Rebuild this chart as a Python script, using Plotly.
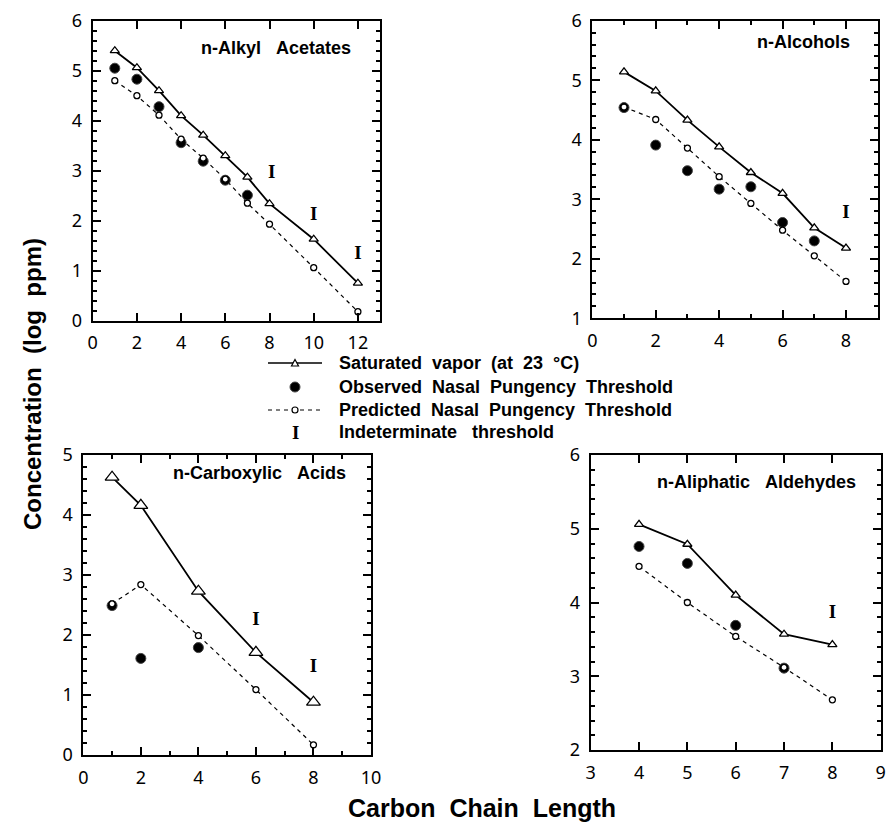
import plotly.graph_objects as go

# ---------------- data ----------------
acet_x = [1, 2, 3, 4, 5, 6, 7, 8, 10, 12]
acet_sat = [5.40, 5.06, 4.60, 4.10, 3.71, 3.30, 2.87, 2.34, 1.63, 0.75]
acet_obs_x = [1, 2, 3, 4, 5, 6, 7]
acet_obs = [5.05, 4.83, 4.28, 3.56, 3.19, 2.81, 2.51]
acet_pred = [4.80, 4.50, 4.11, 3.63, 3.25, 2.83, 2.35, 1.93, 1.06, 0.18]
acet_ind_x = [8.1, 10, 12]
acet_ind_y = [2.95, 2.10, 1.33]

alc_x = [1, 2, 3, 4, 5, 6, 7, 8]
alc_sat = [5.14, 4.82, 4.33, 3.88, 3.45, 3.10, 2.52, 2.18]
alc_obs_x = [1, 2, 3, 4, 5, 6, 7]
alc_obs = [4.54, 3.91, 3.48, 3.17, 3.21, 2.61, 2.30]
alc_pred = [4.55, 4.34, 3.86, 3.38, 2.93, 2.48, 2.05, 1.62]
alc_ind_x = [8]
alc_ind_y = [2.76]

acid_x = [1, 2, 4, 6, 8]
acid_sat = [4.63, 4.16, 2.73, 1.71, 0.88]
acid_obs_x = [1, 2, 4]
acid_obs = [2.49, 1.61, 1.79]
acid_pred = [2.52, 2.84, 1.99, 1.09, 0.17]
acid_ind_x = [6, 8]
acid_ind_y = [2.25, 1.46]

ald_x = [4, 5, 6, 7, 8]
ald_sat = [5.06, 4.79, 4.10, 3.57, 3.43]
ald_obs_x = [4, 5, 6, 7]
ald_obs = [4.76, 4.53, 3.69, 3.11]
ald_pred = [4.49, 4.00, 3.54, 3.12, 2.68]
ald_ind_x = [8]
ald_ind_y = [3.85]

panel_titles = ["n-Alkyl\u00a0\u00a0\u00a0Acetates", "n-Alcohols",
                "n-Carboxylic\u00a0\u00a0\u00a0Acids", "n-Aliphatic\u00a0\u00a0\u00a0Aldehydes"]
legend_labels = ["Saturated\u00a0\u00a0vapor\u00a0\u00a0(at\u00a0\u00a023\u00a0\u00a0\u00b0C)",
                 "Observed\u00a0\u00a0Nasal\u00a0\u00a0Pungency\u00a0\u00a0Threshold",
                 "Predicted\u00a0\u00a0Nasal\u00a0\u00a0Pungency\u00a0\u00a0Threshold",
                 "Indeterminate\u00a0\u00a0\u00a0threshold"]
x_title = "Carbon\u00a0\u00a0Chain\u00a0\u00a0Length"
y_title = "Concentration\u00a0\u00a0(log\u00a0\u00a0ppm)"

# ---------------- layout constants ----------------
W, H = 887, 829
TICK_FONT = dict(family="Noto Sans", size=18, color="black")
BOLD = "Liberation Sans"
SERIF = "Liberation Serif"

def fx(px):
    return px / W

def fy(py):
    return 1 - py / H

panels = [
    dict(data=(acet_x, acet_sat, acet_obs_x, acet_obs, acet_pred, acet_ind_x, acet_ind_y),
         xdom=[fx(92.7), fx(380.0)], ydom=[fy(320.7), fy(20.7)],
         xr=[0, 13], xd=2, xminor=None, yr=[0, 6], tri=8,
         title_pos=(8.3, 5.45)),
    dict(data=(alc_x, alc_sat, alc_obs_x, alc_obs, alc_pred, alc_ind_x, alc_ind_y),
         xdom=[fx(592.3), fx(877.7)], ydom=[fy(318.3), fy(20.7)],
         xr=[0, 9], xd=2, xminor=1, yr=[1, 6], tri=8,
         title_pos=(6.65, 5.65)),
    dict(data=(acid_x, acid_sat, acid_obs_x, acid_obs, acid_pred, acid_ind_x, acid_ind_y),
         xdom=[fx(83.3), fx(371.0)], ydom=[fy(755), fy(455)],
         xr=[0, 10], xd=2, xminor=1, yr=[0, 5], tri=12,
         title_pos=(6.14, 4.70)),
    dict(data=(ald_x, ald_sat, ald_obs_x, ald_obs, ald_pred, ald_ind_x, ald_ind_y),
         xdom=[fx(590.7), fx(880.7)], ydom=[fy(750), fy(455)],
         xr=[3, 9], xd=1, xminor=None, yr=[2, 6], tri=8,
         title_pos=(6.44, 5.64)),
]

fig = go.Figure()
annotations = []
shapes = []
layout = {}

for i, p in enumerate(panels, start=1):
    xs, sat, ox, obs, pred, ix, iy = p["data"]
    xa = "x" if i == 1 else f"x{i}"
    ya = "y" if i == 1 else f"y{i}"
    fig.add_trace(go.Scatter(x=xs, y=sat, xaxis=xa, yaxis=ya, mode="lines+markers",
                             line=dict(color="black", width=1.8),
                             marker=dict(symbol="triangle-up", size=p["tri"], color="white",
                                         line=dict(color="black", width=1.3)),
                             showlegend=False))
    fig.add_trace(go.Scatter(x=xs, y=pred, xaxis=xa, yaxis=ya, mode="lines",
                             line=dict(color="black", width=1.2, dash="4px,4px"),
                             showlegend=False))
    fig.add_trace(go.Scatter(x=ox, y=obs, xaxis=xa, yaxis=ya, mode="markers",
                             marker=dict(symbol="circle", size=10, color="black",
                                         line=dict(color="#444", width=1)),
                             showlegend=False))
    fig.add_trace(go.Scatter(x=xs, y=pred, xaxis=xa, yaxis=ya, mode="markers",
                             marker=dict(symbol="circle", size=6, color="white",
                                         line=dict(color="black", width=1.3)),
                             showlegend=False))
    fig.add_trace(go.Scatter(x=ix, y=iy, xaxis=xa, yaxis=ya, mode="text",
                             text=["I"] * len(ix),
                             textfont=dict(family=SERIF, size=19, color="black", weight="bold"),
                             showlegend=False))

    axis_common = dict(showline=True, linewidth=2, linecolor="black", mirror="ticks",
                       ticks="inside", ticklen=8, tickwidth=2, tickcolor="black",
                       showgrid=False, zeroline=False, tickfont=TICK_FONT,
                       automargin=False, ticklabelstandoff=5, autorange=True)
    xkw = dict(axis_common, domain=p["xdom"], dtick=p["xd"], tick0=0, anchor=ya,
               autorangeoptions=dict(minallowed=p["xr"][0], maxallowed=p["xr"][1]))
    if p["xminor"]:
        xkw["minor"] = dict(dtick=p["xminor"], ticks="inside", ticklen=4, tickwidth=1.5,
                            tickcolor="black", showgrid=False)
    ykw = dict(axis_common, domain=p["ydom"], dtick=1, tick0=0, anchor=xa,
               autorangeoptions=dict(minallowed=p["yr"][0], maxallowed=p["yr"][1]),
               minor=dict(dtick=0.2, ticks="inside", ticklen=4, tickwidth=1.5,
                          tickcolor="black", showgrid=False))
    layout["xaxis" if i == 1 else f"xaxis{i}"] = xkw
    layout["yaxis" if i == 1 else f"yaxis{i}"] = ykw

    tx, ty = p["title_pos"]
    annotations.append(dict(x=tx, y=ty, xref=xa, yref=ya, text=panel_titles[i - 1],
                            showarrow=False, xanchor="center", yanchor="middle",
                            font=dict(family=BOLD, size=18, color="black", weight="bold")))

# ---------------- legend (shapes + text, pixel layout) ----------------
LEG_X0, LEG_X1, LEG_XM, LEG_TX = 268, 322, 295, 337
LEG_Y = [363, 387, 410, 432]

shapes.append(dict(type="line", xref="paper", yref="paper", x0=fx(LEG_X0), x1=fx(LEG_X1),
                   y0=fy(LEG_Y[0]), y1=fy(LEG_Y[0]), line=dict(color="black", width=1.5)))
tri_path = "M {:.5f},{:.5f} L {:.5f},{:.5f} L {:.5f},{:.5f} Z".format(
    fx(LEG_XM - 3.5), fy(LEG_Y[0] + 3), fx(LEG_XM + 3.5), fy(LEG_Y[0] + 3),
    fx(LEG_XM), fy(LEG_Y[0] - 3.5))
shapes.append(dict(type="path", xref="paper", yref="paper", path=tri_path,
                   fillcolor="white", line=dict(color="black", width=1.2)))
shapes.append(dict(type="circle", xref="paper", yref="paper",
                   x0=fx(LEG_XM - 5), x1=fx(LEG_XM + 5), y0=fy(LEG_Y[1] + 5), y1=fy(LEG_Y[1] - 5),
                   fillcolor="black", line=dict(color="#444", width=1)))
shapes.append(dict(type="line", xref="paper", yref="paper", x0=fx(LEG_X0), x1=fx(LEG_X1),
                   y0=fy(LEG_Y[2]), y1=fy(LEG_Y[2]),
                   line=dict(color="black", width=1.2, dash="4px,4px")))
shapes.append(dict(type="circle", xref="paper", yref="paper",
                   x0=fx(LEG_XM - 3), x1=fx(LEG_XM + 3), y0=fy(LEG_Y[2] + 3), y1=fy(LEG_Y[2] - 3),
                   fillcolor="white", line=dict(color="black", width=1.2)))
annotations.append(dict(x=fx(LEG_XM), y=fy(LEG_Y[3]), xref="paper", yref="paper", text="I",
                        showarrow=False, xanchor="center", yanchor="middle",
                        font=dict(family=SERIF, size=19, color="black", weight="bold")))
for lab, yy in zip(legend_labels, LEG_Y):
    annotations.append(dict(x=fx(LEG_TX), y=fy(yy), xref="paper", yref="paper", text=lab,
                            showarrow=False, xanchor="left", yanchor="middle",
                            font=dict(family=BOLD, size=18, color="black", weight="bold")))

annotations.append(dict(x=fx(33), y=fy(384), xref="paper", yref="paper", text=y_title,
                        textangle=-90, showarrow=False, xanchor="center", yanchor="middle",
                        font=dict(family=BOLD, size=24, color="black", weight="bold")))
annotations.append(dict(x=fx(482), y=fy(808), xref="paper", yref="paper", text=x_title,
                        showarrow=False, xanchor="center", yanchor="middle",
                        font=dict(family=BOLD, size=25, color="black", weight="bold")))

fig.update_layout(**layout)
fig.update_layout(template="none", width=W, height=H, margin=dict(l=0, r=0, t=0, b=0),
                  paper_bgcolor="white", plot_bgcolor="white",
                  annotations=annotations, shapes=shapes, showlegend=False)

fig.write_html("out.html", config={"displayModeBar": False},
               post_script="document.body.style.margin='0px';")
